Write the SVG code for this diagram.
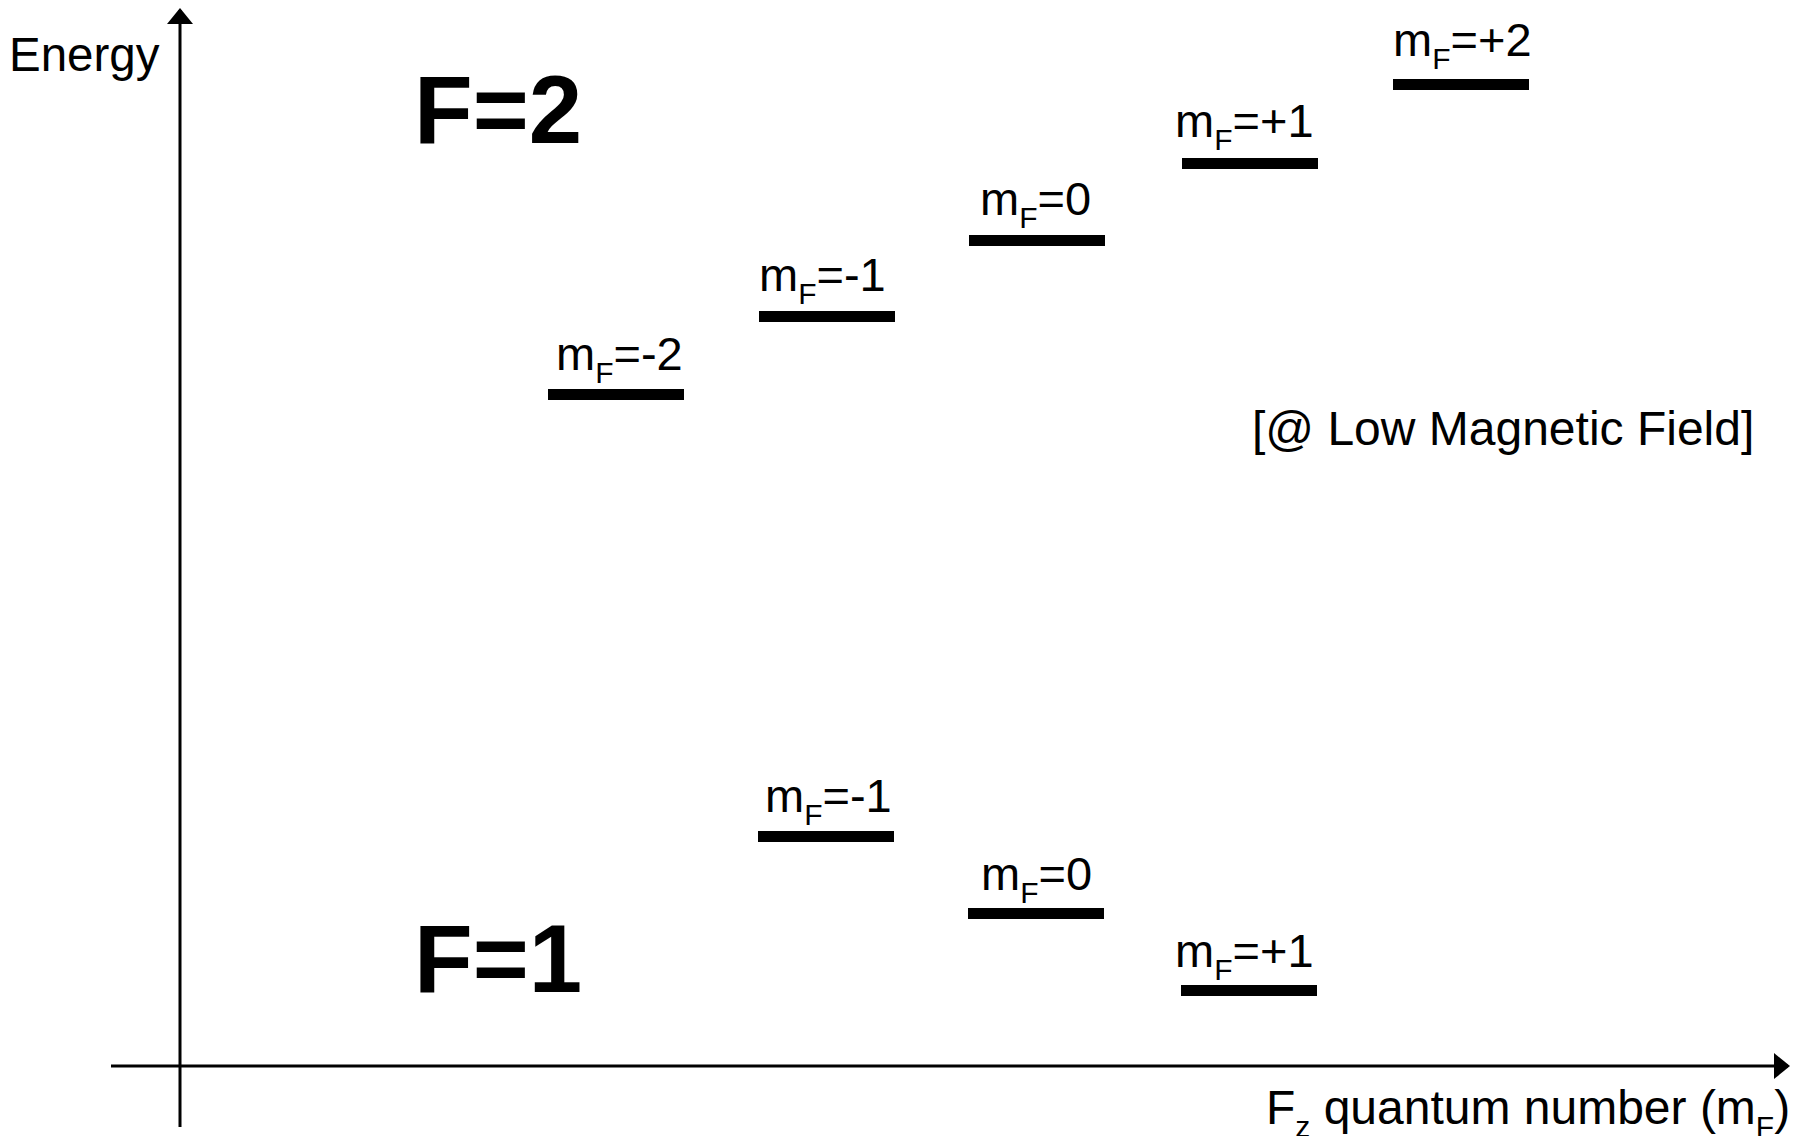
<svg xmlns="http://www.w3.org/2000/svg" width="1808" height="1136" viewBox="0 0 1808 1136">
<style>
text{font-family:"Liberation Sans",Arial,sans-serif;fill:#000}
.lbl{font-size:47px}
.big{font-size:96px;font-weight:bold}
.sub{font-size:30px}
.bar{fill:#000}
.axis{stroke:#000;stroke-width:3;fill:none}
</style>
<defs>
<marker id="ah" markerWidth="16" markerHeight="26" refX="14" refY="13" orient="auto" markerUnits="userSpaceOnUse">
<path d="M0,0 L16,13 L0,26 Z" fill="#000"/>
</marker>
</defs>
<rect width="1808" height="1136" fill="#fff"/>
<g id="connectors">
<line class="axis" x1="180" y1="1127" x2="180" y2="10" marker-end="url(#ah)"/>
<line class="axis" x1="111" y1="1066" x2="1788" y2="1066" marker-end="url(#ah)"/>
</g>
<g id="axis-labels">
<text class="lbl" x="9" y="71" style="font-size:47.5px">Energy</text>
<text class="lbl" x="1266" y="1124" style="font-size:48px">F<tspan class="sub" dy="13">z</tspan><tspan dy="-13"> quantum number (m</tspan><tspan class="sub" dy="13">F</tspan><tspan dy="-13">)</tspan></text>
<text class="lbl" x="1252" y="445" style="font-size:48px">[@ Low Magnetic Field]</text>
</g>
<g id="F2-title"><text class="big" x="414" y="143">F=2</text></g>
<g id="F1-title"><text class="big" x="414" y="992">F=1</text></g>
<g id="F2-m-2"><rect class="bar" x="548" y="389" width="136" height="11"/><text class="lbl" x="556" y="370">m<tspan class="sub" dy="13">F</tspan><tspan dy="-13">=-2</tspan></text></g>
<g id="F2-m-1"><rect class="bar" x="759" y="311" width="136" height="11"/><text class="lbl" x="759" y="291">m<tspan class="sub" dy="13">F</tspan><tspan dy="-13">=-1</tspan></text></g>
<g id="F2-m0"><rect class="bar" x="969" y="235" width="136" height="11"/><text class="lbl" x="980" y="215">m<tspan class="sub" dy="13">F</tspan><tspan dy="-13">=0</tspan></text></g>
<g id="F2-m+1"><rect class="bar" x="1182" y="158" width="136" height="11"/><text class="lbl" x="1175" y="137">m<tspan class="sub" dy="13">F</tspan><tspan dy="-13">=+1</tspan></text></g>
<g id="F2-m+2"><rect class="bar" x="1393" y="79" width="136" height="11"/><text class="lbl" x="1393" y="56">m<tspan class="sub" dy="13">F</tspan><tspan dy="-13">=+2</tspan></text></g>
<g id="F1-m-1"><rect class="bar" x="758" y="831" width="136" height="11"/><text class="lbl" x="765" y="812">m<tspan class="sub" dy="13">F</tspan><tspan dy="-13">=-1</tspan></text></g>
<g id="F1-m0"><rect class="bar" x="968" y="908" width="136" height="11"/><text class="lbl" x="981" y="890">m<tspan class="sub" dy="13">F</tspan><tspan dy="-13">=0</tspan></text></g>
<g id="F1-m+1"><rect class="bar" x="1181" y="985" width="136" height="11"/><text class="lbl" x="1175" y="967">m<tspan class="sub" dy="13">F</tspan><tspan dy="-13">=+1</tspan></text></g>
</svg>
